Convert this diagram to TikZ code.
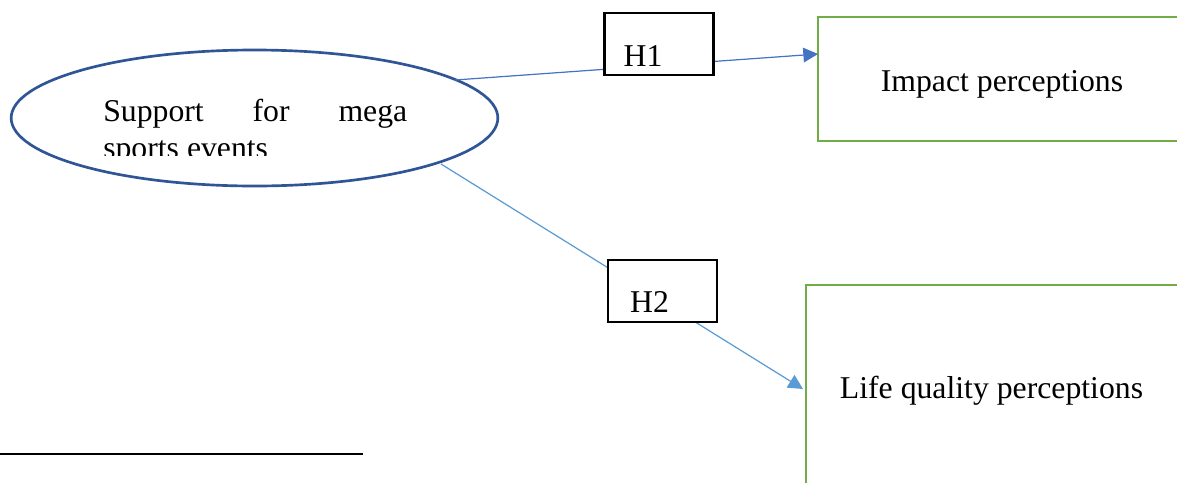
\documentclass[tikz,border=0pt]{standalone}
\usepackage{fontspec}
\setmainfont{Liberation Serif}
\usetikzlibrary{shapes.geometric,arrows.meta}
\definecolor{ellblue}{HTML}{2F5597}
\definecolor{lineA}{HTML}{4472C4}
\definecolor{lineB}{HTML}{5B9BD5}
\definecolor{boxgreen}{HTML}{70AD47}
\tikzset{
  txt/.style={inner sep=0pt,font=\fontsize{23.8}{28}\selectfont},
  hbox/.style={draw=black,line width=1.7pt,fill=white,inner sep=0pt},
  gbox/.style={draw=boxgreen,line width=2pt,inner sep=0pt},
  conn/.style={line width=0.9pt,-{Triangle[length=11pt,width=11pt]}},
}
\begin{document}
\begin{tikzpicture}[x=0.75pt,y=-0.75pt]
\clip (0,0) rectangle (1177,482);
\fill[white] (0,0) rectangle (1177,482);
% ellipse
\node[ellipse,draw=ellblue,line width=2pt,minimum width=365pt,minimum height=102pt,inner sep=0pt] (sup) at (254.5,118) {};
\node[txt,anchor=base west] (suptxt) at (103,121) {\hbox to 228pt{Support\hfil for\hfil mega}};
\begin{scope}
\clip (90,130) rectangle (420,155.5);
\node[txt,anchor=base west] (suptxt2) at (103,158) {sports events};
\end{scope}
% boxes
\node[gbox,minimum width=276pt,minimum height=93pt] (imp) at (1002,79) {};
\node[txt,anchor=base] (imptxt) at (1002,91) {Impact perceptions};
\node[gbox,minimum width=280.5pt,minimum height=159pt] (life) at (993,391) {};
\node[txt,anchor=base] (lifetxt) at (991.5,398) {Life quality perceptions};
% connectors
\coordinate (a1s) at (455,80);
\coordinate (a1e) at (818,54);
\coordinate (a2s) at (441,164);
\coordinate (a2e) at (803,389);
\draw[conn,draw=lineA,fill=lineA] (a1s) -- (a1e);
\draw[conn,draw=lineB,fill=lineB] (a2s) -- (a2e);
% hypothesis boxes
\node[hbox,minimum width=81.75pt,minimum height=46.5pt] (h1) at (659,44) {};
\node[txt,anchor=base] (h1txt) at (643,66) {H1};
\node[hbox,minimum width=81.75pt,minimum height=46.5pt] (h2) at (662.5,291) {};
\node[txt,anchor=base] (h2txt) at (649.5,312) {H2};
% footnote rule
\coordinate (r1) at (0,454);
\coordinate (r2) at (363,454);
\draw[line width=1.5pt] (r1) -- (r2);
\end{tikzpicture}
\end{document}
